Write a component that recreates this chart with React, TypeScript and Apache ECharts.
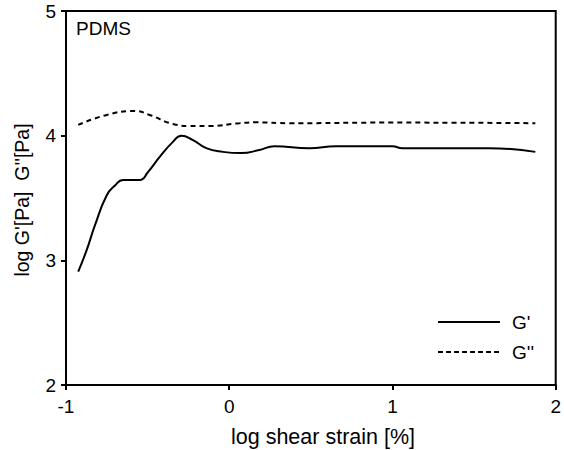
import React, { useEffect, useRef } from "react";
import * as echarts from "echarts";

const strainGp = [-0.925, -0.874, -0.823, -0.751, -0.70, -0.65, -0.548, -0.497, -0.426, -0.345, -0.293, -0.222, -0.141, -0.039, 0.073, 0.185, 0.277, 0.49, 0.654, 1.0, 1.06, 1.59, 1.875];
const gPrime = [2.91, 3.08, 3.28, 3.52, 3.60, 3.645, 3.645, 3.71, 3.83, 3.95, 4.0, 3.965, 3.90, 3.87, 3.86, 3.885, 3.915, 3.90, 3.915, 3.915, 3.90, 3.90, 3.87];
const strainGpp = [-0.925, -0.751, -0.578, -0.487, -0.345, -0.243, -0.12, 0.063, 0.165, 0.368, 1.0, 1.875];
const gDoublePrime = [4.086, 4.166, 4.198, 4.166, 4.094, 4.078, 4.078, 4.10, 4.107, 4.10, 4.105, 4.10];
const legendNames = ["G'", "G''"];
const xAxisName = "log shear strain [%]";
const yAxisName = "log G'[Pa]  G''[Pa]";

const FONT = "Liberation Sans, Arial, Helvetica, sans-serif";

export default function App() {
  const ref = useRef<HTMLDivElement>(null);
  useEffect(() => {
    if (!ref.current) return;
    const chart = echarts.init(ref.current, null, { renderer: "svg" });
    chart.setOption({
      animation: false,
      backgroundColor: "#fff",
      textStyle: { fontFamily: FONT, color: "#000" },
      grid: { left: 66, top: 11, right: 7, bottom: 65, show: true, borderColor: "#000", borderWidth: 2, backgroundColor: "transparent" },
      graphic: [
        { type: "text", left: 76, top: 19, style: { text: "PDMS", fontSize: 19, fontFamily: FONT, fill: "#000" } },
        { type: "text", x: 323, y: 437, style: { text: xAxisName, fontSize: 21.5, fontFamily: FONT, fill: "#000", align: "center", verticalAlign: "middle" } },
        { type: "text", x: 22, y: 200, rotation: Math.PI / 2, style: { text: yAxisName, fontSize: 19.5, fontFamily: FONT, fill: "#000", align: "center", verticalAlign: "middle" } },
        { type: "line", shape: { x1: 438, y1: 322, x2: 500, y2: 322 }, style: { stroke: "#000", lineWidth: 2 } },
        { type: "line", shape: { x1: 438, y1: 352, x2: 500, y2: 352 }, style: { stroke: "#000", lineWidth: 2, lineDash: [5, 3] } },
        { type: "text", x: 512, y: 322, style: { text: legendNames[0], fontSize: 19, fontFamily: FONT, fill: "#000", verticalAlign: "middle" } },
        { type: "text", x: 512, y: 352, style: { text: legendNames[1], fontSize: 19, fontFamily: FONT, fill: "#000", verticalAlign: "middle" } },
      ],
      xAxis: {
        type: "value",
        min: -1,
        max: 2,
        interval: 1,
        axisLine: { show: true, onZero: false, lineStyle: { color: "#000", width: 2 } },
        axisTick: { show: true, length: 5, lineStyle: { color: "#000", width: 2 } },
        axisLabel: { fontSize: 19, color: "#000", fontFamily: FONT, margin: 12 },
        splitLine: { show: false },
      },
      yAxis: {
        type: "value",
        min: 2,
        max: 5,
        interval: 1,
        axisLine: { show: true, onZero: false, lineStyle: { color: "#000", width: 2 } },
        axisTick: { show: true, length: 5, lineStyle: { color: "#000", width: 2 } },
        axisLabel: { fontSize: 19, color: "#000", fontFamily: FONT, margin: 10 },
        splitLine: { show: false },
      },
      series: [
        {
          name: legendNames[0],
          type: "line",
          data: strainGp.map((x, i) => [x, gPrime[i]]),
          smooth: 0.5,
          symbol: "none",
          lineStyle: { color: "#000", width: 2, type: "solid" },
          itemStyle: { color: "#000" },
        },
        {
          name: legendNames[1],
          type: "line",
          data: strainGpp.map((x, i) => [x, gDoublePrime[i]]),
          smooth: 0.5,
          symbol: "none",
          lineStyle: { color: "#000", width: 2, type: [5, 4] },
          itemStyle: { color: "#000" },
        },
      ],
    });
    return () => chart.dispose();
  }, []);
  return <div ref={ref} style={{ width: 564, height: 450, position: "absolute", left: 0, top: 0 }} />;
}
